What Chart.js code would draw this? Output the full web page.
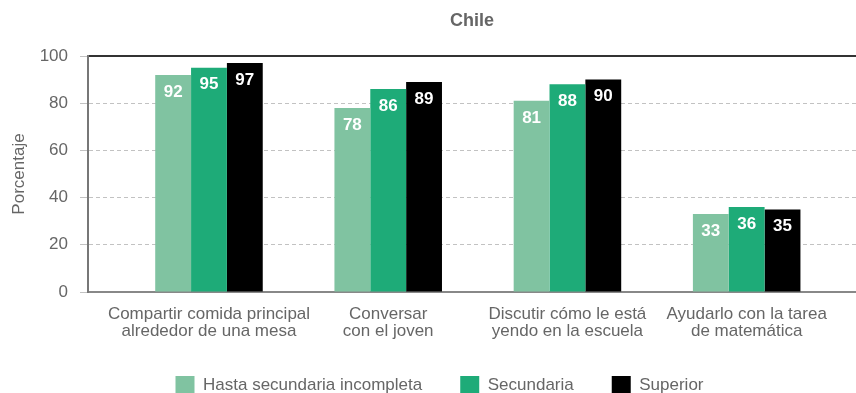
<!DOCTYPE html>
<html>
<head>
<meta charset="utf-8">
<script src="https://cdn.jsdelivr.net/npm/chart.js@4"></script>
<style>
  html, body { margin: 0; padding: 0; background: #fff; overflow: hidden; }
  #wrap { width: 856px; height: 405px; position: relative; }
</style>
</head>
<body>
<div id="wrap"><canvas id="c"></canvas></div>
<script>
// ---- Data ----
const categories = [
  ["Compartir comida principal", "alrededor de una mesa"],
  ["Conversar", "con el joven"],
  ["Discutir cómo le está", "yendo en la escuela"],
  ["Ayudarlo con la tarea", "de matemática"]
];
const seriesNames = ["Hasta secundaria incompleta", "Secundaria", "Superior"];
const hastaSecundaria = [92, 78, 81, 33];
const secundaria = [95, 86, 88, 36];
const superior = [97, 89, 90, 35];
const yTicks = [0, 20, 40, 60, 80, 100];
const chartTitle = "Chile";
const yTitle = "Porcentaje";

// ---- Styles ----
const colors = ["#80c3a1", "#1eab78", "#000000"];
const textGray = "#666666";
Chart.defaults.font.family = "'Liberation Sans', Arial, Helvetica, sans-serif";
Chart.defaults.color = textGray;

const valueLabels = {
  id: 'valueLabels',
  afterDatasetsDraw(chart) {
    const ctx = chart.ctx;
    ctx.save();
    ctx.font = "bold 17px 'Liberation Sans', Arial, sans-serif";
    ctx.fillStyle = "#ffffff";
    ctx.textAlign = "center";
    ctx.textBaseline = "middle";
    chart.data.datasets.forEach((ds, i) => {
      const meta = chart.getDatasetMeta(i);
      meta.data.forEach((bar, j) => {
        ctx.fillText(String(ds.data[j]), bar.x, bar.y + 17);
      });
    });
    ctx.restore();
  }
};

new Chart(document.getElementById('c'), {
  type: 'bar',
  data: {
    labels: categories,
    datasets: [
      { label: seriesNames[0], data: hastaSecundaria, backgroundColor: colors[0] },
      { label: seriesNames[1], data: secundaria, backgroundColor: colors[1] },
      { label: seriesNames[2], data: superior, backgroundColor: colors[2] }
    ]
  },
  options: {
    responsive: true,
    maintainAspectRatio: false,
    animation: false,
    layout: { padding: { left: 23, right: 0, top: 0, bottom: 0 } },
    datasets: { bar: { categoryPercentage: 0.6, barPercentage: 1.0, borderWidth: 0 } },
    plugins: {
      title: {
        display: true,
        text: chartTitle,
        fullSize: false,
        color: textGray,
        font: { size: 18, weight: 'bold', lineHeight: 1.2 },
        padding: { top: 10, bottom: 24.4 }
      },
      legend: {
        position: 'bottom',
        labels: {
          boxWidth: 19,
          boxHeight: 19,
          padding: 38,
          color: textGray,
          font: { size: 17 }
        }
      },
      tooltip: { enabled: false }
    },
    scales: {
      x: {
        position: 'bottom',
        afterBuildTicks: (scale) => {
          // group offset within the plot frame
          scale._startValue = -0.675;
          scale._valueRange = 4.285;
        },
        afterFit: (scale) => {
          scale.height = 46;
          scale._computeLabelArea = () => null; // let the two-line labels overflow the axis box
        },
        grid: { display: false },
        border: { display: true, color: '#888888', width: 2 },
        ticks: {
          color: textGray,
          font: { size: 17, lineHeight: 1.05 },
          padding: 5,
          maxRotation: 0,
          autoSkip: false
        }
      },
      xTop: {
        type: 'category',
        position: 'top',
        afterFit: (scale) => { scale.height = 0; },
        grid: { display: false, drawTicks: false },
        border: { display: true, color: '#333333', width: 2 },
        ticks: { display: false }
      },
      y: {
        min: 0,
        max: 100,
        afterBuildTicks: (scale) => { scale.ticks = yTicks.map(v => ({ value: v })); },
        afterFit: (scale) => { scale.width = 65; },
        grid: {
          color: '#c2c2c2',
          lineWidth: 1,
          drawTicks: true,
          tickLength: 8
        },
        border: { display: true, color: '#777777', width: 2, dash: [4, 3] },
        ticks: {
          color: textGray,
          font: { size: 17 },
          padding: 12
        },
        title: {
          display: true,
          text: yTitle,
          color: textGray,
          font: { size: 17, lineHeight: 1.2 },
          padding: { top: -14, bottom: 0 }
        }
      }
    }
  },
  plugins: [valueLabels]
});
</script>
</body>
</html>
